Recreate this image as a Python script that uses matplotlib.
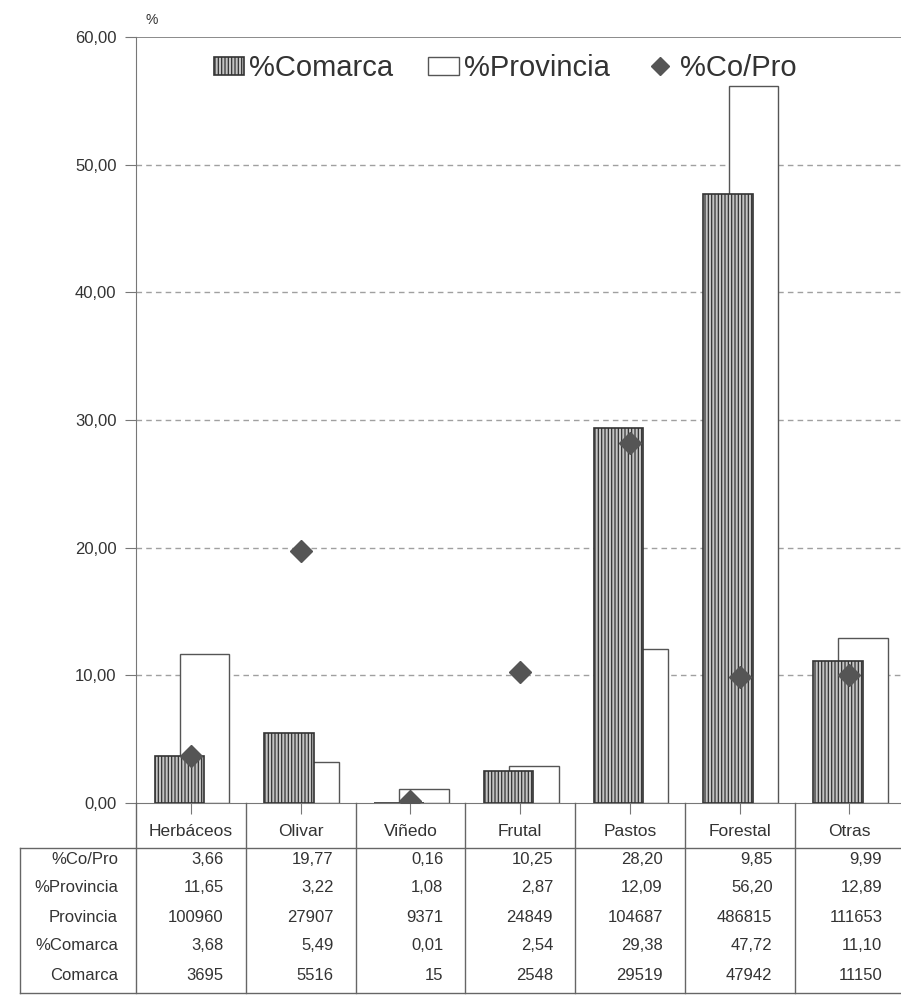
import matplotlib.pyplot as plt
import matplotlib.transforms as mtransforms
from matplotlib.lines import Line2D
import numpy as np

plt.rcParams['font.family'] = ['Liberation Sans', 'DejaVu Sans']

categories = ['Herbáceos', 'Olivar', 'Viñedo', 'Frutal', 'Pastos', 'Forestal', 'Otras']
co_pro = [3.66, 19.77, 0.16, 10.25, 28.20, 9.85, 9.99]
pct_provincia = [11.65, 3.22, 1.08, 2.87, 12.09, 56.20, 12.89]
provincia = [100960, 27907, 9371, 24849, 104687, 486815, 111653]
pct_comarca = [3.68, 5.49, 0.01, 2.54, 29.38, 47.72, 11.10]
comarca = [3695, 5516, 15, 2548, 29519, 47942, 11150]

row_labels = ['%Co/Pro', '%Provincia', 'Provincia', '%Comarca', 'Comarca']


def fmt(v):
    if isinstance(v, int):
        return str(v)
    return f'{v:.2f}'.replace('.', ',')


W, H = 901, 998
fig = plt.figure(figsize=(W / 100, H / 100), dpi=100)
ax_left = 136 / W
ax = fig.add_axes([ax_left, 1 - 803 / H, 1 - ax_left, (803 - 37) / H])

x = np.arange(len(categories))
grey = '#777777'
plt.rcParams['hatch.linewidth'] = 0.9

prov_bars = ax.bar(x + 0.125, pct_provincia, width=0.45, facecolor='white', edgecolor='#555555',
                   linewidth=1.0, zorder=2)
com_bars = ax.bar(x - 0.105, pct_comarca, width=0.45, facecolor='#c4c4c4', edgecolor='#333333',
                  hatch='|||||', linewidth=1.2, zorder=3)
ax.plot(x, co_pro, linestyle='none', marker='D', markersize=11, color='#555555', zorder=4)

ax.set_xlim(-0.5, 6.47)
ax.set_ylim(0, 60)
ax.set_yticks(np.arange(0, 61, 10))
ax.set_yticklabels([f'{v:.2f}'.replace('.', ',') for v in np.arange(0, 61, 10)],
                   fontsize=12, color='#333333')
ax.tick_params(axis='y', length=8, color=grey, pad=6)
ax.set_xticks(x)
ax.set_xticklabels([])
ax.tick_params(axis='x', length=8, color=grey, direction='out')
for yv in range(10, 60, 10):
    ax.axhline(yv, color='#a0a0a0', linestyle=(0, (4, 3)), linewidth=1.0, zorder=1)
ax.axhline(60, color=grey, linewidth=1.2, zorder=1)

ax.spines['right'].set_visible(False)
ax.spines['top'].set_visible(False)
ax.spines['left'].set_color(grey)
ax.spines['bottom'].set_color(grey)

fig.text(152 / W, 1 - 20 / H, '%', fontsize=10, color='#333333', ha='center', va='center')

diamond = Line2D([], [], linestyle='none', marker='D', markersize=9, color='#555555')
ax.legend([com_bars, prov_bars, diamond], ['%Comarca', '%Provincia', '%Co/Pro'],
          loc='upper left', bbox_to_anchor=(0.067, 1.012), ncol=3, frameon=False,
          fontsize=21, handlelength=1.05, handleheight=0.6, handletextpad=0.17,
          columnspacing=1.2, labelcolor='#333333')

# table below the plot: x in data units, y in figure pixels
trans = mtransforms.blended_transform_factory(ax.transData, fig.transFigure)


def fy(py):
    return 1 - py / H


line_kw = dict(color='#666666', linewidth=1.0, transform=trans, clip_on=False)
row_y = [860, 888, 917, 946, 975]
rows = [co_pro, pct_provincia, provincia, pct_comarca, comarca]

for i, cat in enumerate(categories):
    fig.text(i, fy(832), cat, transform=trans, ha='center', va='center',
             fontsize=12.5, color='#333333')
    for r, vals in enumerate(rows):
        fig.text(i + 0.3, fy(row_y[r]), fmt(vals[i]), transform=trans, ha='right',
                 va='center', fontsize=12, color='#333333')

for b in np.arange(-0.5, 7, 1.0):
    fig.add_artist(plt.Line2D([b, b], [fy(803), fy(993)], **line_kw))

x_left = ax.transData.inverted().transform((20, 0))[0]
fig.add_artist(plt.Line2D([x_left, 6.6], [fy(848), fy(848)], **line_kw))
fig.add_artist(plt.Line2D([x_left, 6.6], [fy(993), fy(993)], **line_kw))
fig.add_artist(plt.Line2D([x_left, x_left], [fy(848), fy(993)], **line_kw))

for r, lab in enumerate(row_labels):
    fig.text(118 / W, fy(row_y[r]), lab, ha='right', va='center',
             fontsize=12, color='#333333')

plt.savefig('out.png', dpi=100)
